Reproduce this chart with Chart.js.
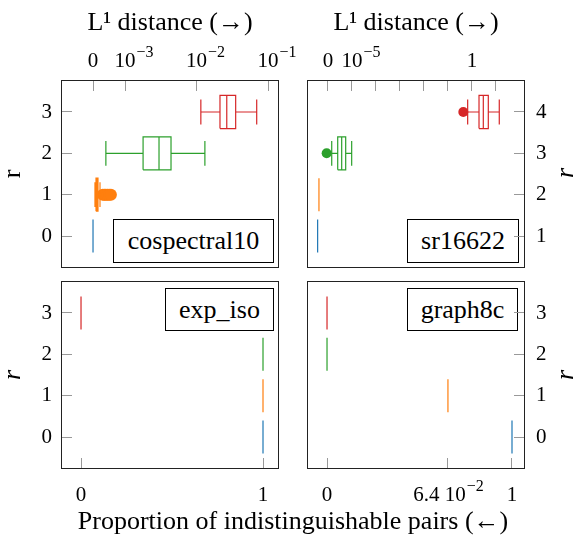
<!DOCTYPE html>
<html>
<head>
<meta charset="utf-8">
<script src="https://cdn.jsdelivr.net/npm/chart.js@4.4.1/dist/chart.umd.min.js"></script>
<style>
  body { margin: 0; background: #fff; }
  #wrap { position: relative; width: 579px; height: 542px; overflow: hidden;
          font-family: "Liberation Serif", "Times New Roman", serif; color: #000; }
  #wrap canvas { position: absolute; left: 0; top: 0; }
  .tag { position: absolute; box-sizing: border-box; border: 1px solid #000; background: #fff;
         font-size: 26px; line-height: 26px; display: flex; align-items: center; justify-content: center; }
  .xlabel { position: absolute; left: 0; width: 586px; top: 508px; text-align: center;
            font-size: 26px; line-height: 26px; white-space: nowrap; }
  .rlabel { position: absolute; width: 30px; height: 30px; line-height: 30px; text-align: center;
            font-size: 26px; font-style: italic; transform: rotate(-90deg); }
</style>
</head>
<body>
<div id="wrap">
  <div class="tag" style="left:113px;top:219px;width:161px;height:44px;">cospectral10</div>
  <div class="tag" style="left:407px;top:219px;width:112px;height:44px;">sr16622</div>
  <div class="tag" style="left:165px;top:288px;width:109px;height:43px;">exp_iso</div>
  <div class="tag" style="left:407px;top:288px;width:111px;height:43px;">graph8c</div>
  <canvas id="c-cos" width="579" height="542"></canvas>
  <canvas id="c-sr" width="579" height="542"></canvas>
  <canvas id="c-exp" width="579" height="542"></canvas>
  <canvas id="c-g8" width="579" height="542"></canvas>
  <div class="xlabel">Proportion of indistinguishable pairs (&larr;)</div>
  <div class="rlabel" style="left:550px;top:158px;">r</div>
  <div class="rlabel" style="left:550px;top:360px;">r</div>
</div>
<script>
const FONT = '"Liberation Serif", "Times New Roman", serif';
const COLORS = ["#1f77b4", "#ff7f0e", "#2ca02c", "#d62728"];

// the value that stands in for 0 on the log axes
const ZERO = 3.57e-4;
const ZERO_SR = 1e-6;

// cospectral10 (top left), L1 distance
const cosR = [0, 1, 2, 3];
const cosLow = [0, 3.8e-4, 5.4e-4, 1.15e-2];
const cosQ1 = [0, 3.93e-4, 1.79e-3, 2.13e-2];
const cosMed = [0, 4.06e-4, 2.99e-3, 2.65e-2];
const cosQ3 = [0, 4.19e-4, 4.4e-3, 3.53e-2];
const cosHigh = [0, 4.47e-4, 1.31e-2, 6.95e-2];
const cosOut = [[], [4.9e-4, 5.15e-4, 5.4e-4, 5.7e-4, 6.0e-4, 6.35e-4], [], []];
const cosTicks = [0, 1e-3, 1e-2, 1e-1];
const cosTickLabels = ["0", "10^−3", "10^−2", "10^−1"];

// sr16622 (top right), L1 distance
const srR = [1, 2, 3, 4];
const srLow = [3.7e-7, 4.2e-7, 1.43e-6, 0.66];
const srQ1 = [3.7e-7, 4.2e-7, 2.54e-6, 1.96];
const srMed = [3.7e-7, 4.2e-7, 3.72e-6, 2.96];
const srQ3 = [3.7e-7, 4.2e-7, 5.46e-6, 4.78];
const srHigh = [3.7e-7, 4.2e-7, 9.7e-6, 13.7];
const srOut = [[], [], [8.8e-7], [0.434]];
const srTicks = [0, 1e-5, 1e-4, 1e-3, 1e-2, 1e-1, 1, 10];
const srTickLabels = ["0", "10^−5", "", "", "", "", "1", ""];

// exp_iso (bottom left), proportion of indistinguishable pairs
const expR = [0, 1, 2, 3];
const expVal = [1, 1, 1, 0];
const expTicks = [0, 1];
const expTickLabels = ["0", "1"];

// graph8c (bottom right)
const g8R = [0, 1, 2, 3];
const g8Val = [1, 0.064, 0, 0];
const g8Ticks = [0, 0.064, 1];
const g8TickLabels = ["0", "6.4 10^−2", "1"];

const framePlugin = {
  id: "frame",
  afterDraw(chart) {
    const { ctx, chartArea: a } = chart;
    ctx.save();
    ctx.strokeStyle = "#222";
    ctx.lineWidth = 1;
    ctx.strokeRect(Math.round(a.left) + 0.5, Math.round(a.top) + 0.5,
      Math.round(a.right - a.left) - 1, Math.round(a.bottom - a.top) - 1);
    ctx.restore();
  },
};

// tick labels with a raised exponent ("10^−3") are drawn here, the rest by the axis
const expLabelPlugin = {
  id: "expLabels",
  afterDraw(chart, args, opts) {
    const s = chart.scales.x;
    const { ctx } = chart;
    const y = s.position === "top" ? s.bottom + 11 - 17 - 12.6 : s.top - 11 + 25 + 12.6;
    ctx.save();
    ctx.fillStyle = "#000";
    ctx.textBaseline = "middle";
    ctx.textAlign = "left";
    opts.labels.forEach((label, i) => {
      if (!label.includes("^")) return;
      const [base, exp] = label.split("^");
      const px = s.getPixelForValue(opts.ticks[i] === 0 ? opts.zero : opts.ticks[i]);
      ctx.font = `21px ${FONT}`;
      const wb = ctx.measureText(base).width;
      ctx.font = `16px ${FONT}`;
      const we = ctx.measureText(exp).width;
      const x0 = opts.anchor === "base" ? px - ctx.measureText("").width - wb / 2 : px - (wb + we) / 2;
      ctx.font = `21px ${FONT}`;
      ctx.fillText(base, x0, y);
      ctx.font = `16px ${FONT}`;
      ctx.fillText(exp, x0 + wb + 1, y - 9);
    });
    ctx.restore();
  },
};

function boxPoints(r, lo, q1, med, q3, hi) {
  const gap = { x: med, y: null };
  return [
    { x: q1, y: r - 0.4 }, { x: q3, y: r - 0.4 }, { x: q3, y: r + 0.4 }, { x: q1, y: r + 0.4 }, { x: q1, y: r - 0.4 }, gap,
    { x: med, y: r - 0.4 }, { x: med, y: r + 0.4 }, gap,
    { x: lo, y: r }, { x: q1, y: r }, gap,
    { x: q3, y: r }, { x: hi, y: r }, gap,
    { x: lo, y: r - 0.3 }, { x: lo, y: r + 0.3 }, gap,
    { x: hi, y: r - 0.3 }, { x: hi, y: r + 0.3 },
  ];
}

function buildDatasets(p) {
  const z = (v) => (v === 0 ? p.zero : v);
  const sets = [];
  p.r.forEach((r, i) => {
    sets.push({
      data: boxPoints(r, z(p.low[i]), z(p.q1[i]), z(p.med[i]), z(p.q3[i]), z(p.high[i])),
      showLine: true, spanGaps: false, borderColor: COLORS[i], borderWidth: 1.2,
      pointRadius: 0, pointHoverRadius: 0, pointHitRadius: 0,
    });
    const out = (p.out && p.out[i]) || [];
    if (out.length) {
      sets.push({
        data: out.map((v) => ({ x: z(v), y: r })),
        showLine: false, pointRadius: i === 1 ? 6 : 5, pointBorderWidth: 0,
        backgroundColor: COLORS[i], borderColor: COLORS[i],
      });
    }
  });
  return sets;
}

function makePanel(id, p) {
  const left = p.yPos === "left";
  new Chart(document.getElementById(id), {
    type: "scatter",
    data: { datasets: buildDatasets(p) },
    options: {
      responsive: false,
      animation: false,
      devicePixelRatio: 1,
      layout: { padding: p.pad },
      plugins: {
        legend: { display: false },
        tooltip: { enabled: false },
        expLabels: { labels: p.tickLabels, ticks: p.ticks, zero: p.zero, anchor: p.expAnchor },
      },
      scales: {
        x: {
          type: "logarithmic", position: p.xPos, min: p.xMin, max: p.xMax, bounds: "data",
          afterBuildTicks: (s) => { s.ticks = p.ticks.map((v) => ({ value: v === 0 ? p.zero : v })); },
          afterFit: (s) => { s.height = p.xHeight; },
          grid: { drawOnChartArea: false, tickLength: -11, color: "#999", lineWidth: 1 },
          border: { display: false },
          ticks: {
            autoSkip: false, maxRotation: 0, padding: p.xPos === "top" ? 17 : 25,
            color: "#000", font: { family: FONT, size: 21 },
            callback: (v, i) => (p.tickLabels[i].includes("^") ? "" : p.tickLabels[i]),
          },
          title: p.xPos === "top"
            ? { display: true, text: "L¹ distance (→)", color: "#000",
                font: { family: FONT, size: 26 }, padding: { top: 8, bottom: 0 } }
            : { display: false },
        },
        y: {
          type: "linear", position: p.yPos, min: p.yMin, max: p.yMax, bounds: "data",
          afterBuildTicks: (s) => { s.ticks = p.r.map((v) => ({ value: v })); },
          afterFit: (s) => { s.width = p.yWidth; },
          grid: { drawOnChartArea: false, tickLength: -11, color: "#999", lineWidth: 1 },
          border: { display: false },
          ticks: {
            autoSkip: false, padding: left ? 20 : 22, color: "#000",
            font: { family: FONT, size: 21 }, callback: (v) => String(v),
          },
          title: left
            ? { display: true, text: "r", color: "#000",
                font: { family: FONT, size: 26, style: p.yItalic ? "italic" : "normal", lineHeight: 1 },
                padding: { top: 0, bottom: 0 } }
            : { display: false },
        },
      },
    },
    plugins: [framePlugin, expLabelPlugin],
  });
}

makePanel("c-cos", {
  r: cosR, low: cosLow, q1: cosQ1, med: cosMed, q3: cosQ3, high: cosHigh, out: cosOut,
  zero: ZERO, ticks: cosTicks, tickLabels: cosTickLabels, expAnchor: "base",
  xMin: 1.273e-4, xMax: 0.1425, yMin: -0.774, yMax: 3.774,
  xPos: "top", yPos: "left", xHeight: 80, yWidth: 61, yItalic: false,
  pad: { left: 0, top: 0, right: 300, bottom: 274 },
});

makePanel("c-sr", {
  r: srR, low: srLow, q1: srQ1, med: srMed, q3: srQ3, high: srHigh, out: srOut,
  zero: ZERO_SR, ticks: srTicks, tickLabels: srTickLabels, expAnchor: "base",
  xMin: 1.334e-7, xMax: 161.6, yMin: 0.226, yMax: 4.774,
  xPos: "top", yPos: "right", xHeight: 80, yWidth: 54,
  pad: { left: 307, top: 0, right: 0, bottom: 274 },
});

makePanel("c-exp", {
  r: expR, low: expVal, q1: expVal, med: expVal, q3: expVal, high: expVal,
  zero: ZERO, ticks: expTicks, tickLabels: expTickLabels, expAnchor: "whole",
  xMin: 1.491e-4, xMax: 2.009, yMin: -0.774, yMax: 3.774,
  xPos: "bottom", yPos: "left", xHeight: 73, yWidth: 61, yItalic: true,
  pad: { left: 0, top: 281, right: 300, bottom: 0 },
});

makePanel("c-g8", {
  r: g8R, low: g8Val, q1: g8Val, med: g8Val, q3: g8Val, high: g8Val,
  zero: ZERO, ticks: g8Ticks, tickLabels: g8TickLabels, expAnchor: "whole",
  xMin: 1.512e-4, xMax: 1.747, yMin: -0.774, yMax: 3.774,
  xPos: "bottom", yPos: "right", xHeight: 73, yWidth: 54,
  pad: { left: 307, top: 281, right: 0, bottom: 0 },
});
</script>
</body>
</html>
